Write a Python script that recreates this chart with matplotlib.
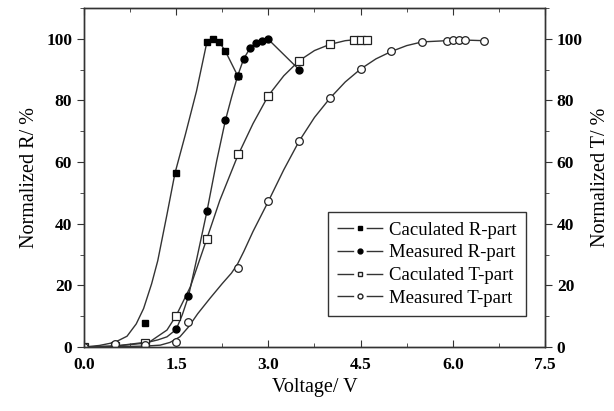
"""
plot.py

Normalized R and T versus voltage, calculated and measured.
"""

import matplotlib
matplotlib.use("Agg")
import matplotlib.pyplot as plt
from matplotlib.ticker import MultipleLocator


#------------------------------------------------------
# Data
#------------------------------------------------------
# Caculated R-part (filled squares)
calc_r_v = [0.0, 0.5, 1.0, 1.5, 2.0, 2.1, 2.2, 2.3, 2.5]
calc_r_y = [0.0, 0.5, 7.7, 56.6, 99.0, 99.9, 99.0, 96.0, 88.0]
calc_r_curve_v = [0.0, 0.25, 0.5, 0.7, 0.85, 0.97, 1.1, 1.2, 1.35, 1.48, 1.65, 1.83, 2.0, 2.1, 2.2, 2.3, 2.5]
calc_r_curve_y = [0.0, 0.5, 1.5, 3.5, 7.5, 12.5, 20.5, 28.0, 43.0, 56.4, 69.0, 83.0, 99.0, 99.9, 99.0, 96.0, 88.0]

# Measured R-part (filled circles)
meas_r_v = [0.0, 0.5, 1.0, 1.5, 1.7, 2.0, 2.3, 2.5, 2.6, 2.7, 2.8, 2.9, 3.0, 3.5]
meas_r_y = [0.0, 0.2, 0.8, 5.7, 16.5, 44.0, 73.5, 88.0, 93.6, 96.9, 98.8, 99.2, 99.8, 90.0]
meas_r_curve_v = [0.0, 0.5, 0.97, 1.2, 1.35, 1.5, 1.6, 1.7, 1.83, 2.0, 2.16, 2.3, 2.4, 2.5, 2.6, 2.7, 2.8, 2.9, 3.0, 3.5]
meas_r_curve_y = [0.0, 0.3, 1.2, 2.3, 3.3, 5.7, 10.5, 16.5, 28.2, 44.0, 60.5, 73.5, 81.0, 88.0, 93.6, 96.9, 98.8, 99.2, 99.8, 90.0]

# Caculated T-part (open squares)
calc_t_v = [0.0, 0.5, 1.0, 1.5, 2.0, 2.5, 3.0, 3.5, 4.0, 4.4, 4.5, 4.6]
calc_t_y = [0.0, 0.3, 1.2, 10.2, 35.2, 62.7, 81.6, 92.9, 98.2, 99.7, 99.7, 99.7]
calc_t_curve_v = [0.0, 0.5, 1.07, 1.35, 1.5, 1.73, 2.0, 2.21, 2.5, 2.75, 3.0, 3.25, 3.5, 3.75, 4.0, 4.25, 4.4, 4.6]
calc_t_curve_y = [0.0, 0.3, 1.7, 5.5, 10.2, 19.5, 35.2, 47.6, 62.0, 72.5, 81.6, 88.0, 92.9, 96.2, 98.2, 99.4, 99.7, 99.7]

# Measured T-part (open circles)
meas_t_v = [0.0, 0.5, 1.0, 1.5, 1.7, 2.5, 3.0, 3.5, 4.0, 4.5, 5.0, 5.5, 5.9, 6.0, 6.1, 6.2, 6.5]
meas_t_y = [0.0, 1.0, 0.5, 1.7, 8.0, 25.5, 47.3, 66.8, 80.7, 90.2, 95.9, 99.0, 99.4, 99.5, 99.6, 99.6, 99.4]
meas_t_curve_v = [0.0, 0.5, 1.0, 1.24, 1.4, 1.56, 1.7, 1.85, 2.05, 2.25, 2.4, 2.5, 2.6, 2.75, 3.0, 3.25, 3.5, 3.75, 4.0, 4.25, 4.5, 4.75, 5.0, 5.25, 5.5, 5.9, 6.2, 6.5]
meas_t_curve_y = [0.0, 0.1, 0.3, 0.6, 1.5, 3.3, 6.5, 10.8, 15.8, 20.6, 24.0, 27.0, 31.0, 37.5, 47.3, 57.5, 66.8, 74.5, 80.7, 86.0, 90.2, 93.5, 95.9, 97.8, 99.0, 99.4, 99.6, 99.4]

x_ticks = [0.0, 1.5, 3.0, 4.5, 6.0, 7.5]
x_tick_labels = ["0.0", "1.5", "3.0", "4.5", "6.0", "7.5"]
y_ticks = [0, 20, 40, 60, 80, 100]
legend_labels = ["Caculated R-part", "Measured R-part", "Caculated T-part", "Measured T-part"]


def main():
    plt.rcParams['font.family'] = ['Liberation Serif', 'DejaVu Serif']
    line_color = "#333333"
    tick_size = 12.5
    label_size = 14.5

    fig = plt.figure(figsize=(6.14, 4.11), dpi=100)
    ax = fig.add_axes([0.1368, 0.1557, 0.7508, 0.8248])

    #------------------------------------------------------
    # Curves and markers
    #------------------------------------------------------
    ax.plot(calc_r_curve_v, calc_r_curve_y, color=line_color, lw=1.0)
    ax.plot(meas_r_curve_v, meas_r_curve_y, color=line_color, lw=1.0)
    ax.plot(calc_t_curve_v, calc_t_curve_y, color=line_color, lw=1.0)
    ax.plot(meas_t_curve_v, meas_t_curve_y, color=line_color, lw=1.0)

    ax.plot(calc_r_v, calc_r_y, ls="none", marker="s", ms=4.8, mfc="black", mec="black")
    ax.plot(meas_r_v, meas_r_y, ls="none", marker="o", ms=5.0, mfc="black", mec="black")
    ax.plot(calc_t_v, calc_t_y, ls="none", marker="s", ms=5.5, mfc="white", mec="#222222", mew=0.9)
    ax.plot(meas_t_v, meas_t_y, ls="none", marker="o", ms=5.5, mfc="white", mec="#222222", mew=0.9)

    # legend handles: dash, gap, marker, gap, dash
    dash = (0, (12, 9))
    h1, = ax.plot([], [], color=line_color, lw=1.0, ls=dash, marker="s", ms=3, mfc="black", mec="black")
    h2, = ax.plot([], [], color=line_color, lw=1.0, ls=dash, marker="o", ms=3.5, mfc="black", mec="black")
    h3, = ax.plot([], [], color=line_color, lw=1.0, ls=dash, marker="s", ms=3.5, mfc="white", mec="#222222")
    h4, = ax.plot([], [], color=line_color, lw=1.0, ls=dash, marker="o", ms=3.5, mfc="white", mec="#222222")
    leg = ax.legend([h1, h2, h3, h4], legend_labels,
                    loc="upper left", bbox_to_anchor=(0.529, 0.398), fontsize=13.5,
                    frameon=True, fancybox=False, edgecolor="#333333", framealpha=1.0,
                    handlelength=2.45, handletextpad=0.3, labelspacing=0.3, borderpad=0.5,
                    borderaxespad=0.0)
    leg.get_frame().set_linewidth(1.0)

    #------------------------------------------------------
    # Axes, ticks, labels
    #------------------------------------------------------
    ax.set_xlim(0, 7.5)
    ax.set_ylim(0, 110)
    ax.set_xticks(x_ticks)
    ax.set_xticklabels(x_tick_labels)
    ax.xaxis.set_minor_locator(MultipleLocator(0.75))
    ax.set_yticks(y_ticks)
    ax.yaxis.set_minor_locator(MultipleLocator(10))
    ax.tick_params(axis="x", which="both", direction="in", top=True, labelsize=tick_size, pad=7, color="#333333")
    ax.tick_params(axis="x", which="major", length=5)
    ax.tick_params(axis="x", which="minor", length=3)
    ax.tick_params(axis="y", which="both", direction="out", labelsize=tick_size, color="#333333")
    ax.tick_params(axis="y", which="major", length=5)
    ax.tick_params(axis="y", which="minor", length=3)
    for lab in ax.get_xticklabels() + ax.get_yticklabels():
        lab.set_fontweight("bold")
    for sp in ax.spines.values():
        sp.set_linewidth(1.0)
        sp.set_color("#333333")

    ax.set_xlabel("Voltage/ V", fontsize=label_size, labelpad=4)
    ax.set_ylabel("Normalized R/ %", fontsize=label_size, labelpad=5)

    ax2 = ax.twinx()
    ax2.set_ylim(0, 110)
    ax2.set_yticks(y_ticks)
    ax2.yaxis.set_minor_locator(MultipleLocator(10))
    ax2.tick_params(axis="y", which="both", direction="out", labelsize=tick_size, color="#333333")
    ax2.tick_params(axis="y", which="major", length=5)
    ax2.tick_params(axis="y", which="minor", length=3)
    for lab in ax2.get_yticklabels():
        lab.set_fontweight("bold")
    for sp in ax2.spines.values():
        sp.set_linewidth(1.0)
        sp.set_color("#333333")
    ax2.set_ylabel("Normalized T/ %", fontsize=label_size, labelpad=6)

    fig.savefig("out.png", dpi=100)


if __name__ == '__main__':
    main()
